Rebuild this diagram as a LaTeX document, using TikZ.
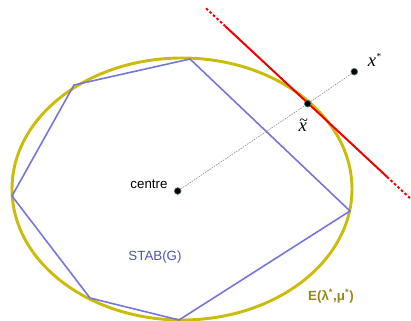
\documentclass[tikz,border=0pt]{standalone}
\usepackage{fontspec}
\setmainfont{Liberation Sans}
\newfontfamily\serifx{Liberation Serif}
\definecolor{ellcol}{RGB}{204,188,10}
\definecolor{elltext}{RGB}{150,135,25}
\definecolor{polycol}{RGB}{118,118,214}
\definecolor{stabtext}{RGB}{80,80,190}
\definecolor{dotrim}{RGB}{80,115,120}
\definecolor{redline}{RGB}{240,0,0}
\tikzset{
  ellipseline/.style={draw=ellcol,line width=2.2pt},
  polyline/.style={draw=polycol,line width=1.2pt,line join=miter},
  tangentsolid/.style={draw=redline,line width=1.5pt},
  tangentdash/.style={draw=redline,line width=1.5pt,dash pattern=on 2pt off 1.6pt},
  rayline/.style={draw=black!45,line width=0.45pt,dash pattern=on 1.2pt off 0.8pt},
  ptdot/.style={circle,fill=black,draw=dotrim,line width=0.5pt,minimum size=5pt,inner sep=0pt},
  lbl/.style={inner sep=0pt,font=\fontsize{10}{12}\selectfont},
  mathlbl/.style={inner sep=0pt,font=\serifx\itshape\fontsize{14}{16}\selectfont}
}
\begin{document}
\begin{tikzpicture}[x=0.75pt,y=-0.75pt]
\useasboundingbox (0,0) rectangle (411,321);
% ellipse
\draw[ellipseline] (182,189) ellipse [x radius=170, y radius=131];
% polygon STAB(G)
\coordinate (p1) at (74,85);
\coordinate (p2) at (190,59);
\coordinate (p3) at (350,211);
\coordinate (p4) at (179,320);
\coordinate (p5) at (90,298);
\coordinate (p6) at (12,196);
\draw[polyline] (p1) -- (p2) -- (p3) -- (p4) -- (p5) -- (p6) -- cycle;
% tangent line
\coordinate (ra) at (206,8.3);
\coordinate (rb) at (225,26);
\coordinate (rc) at (387,176.8);
\coordinate (rd) at (410,198.2);
\draw[tangentdash] (ra) -- (rb);
\draw[tangentsolid] (rb) -- (rc);
\draw[tangentdash] (rc) -- (rd);
% points
\node[ptdot] (centre) at (177.7,191) {};
\node[ptdot] (xt) at (307.7,103.7) {};
\node[ptdot] (xs) at (354.3,71.7) {};
\draw[rayline] (centre) -- (xt);
\draw[rayline] (xt) -- (xs);
% labels
\node[lbl,anchor=base] (centrelbl) at (149,188) {centre};
\node[lbl,anchor=base,text=stabtext] (stablbl) at (155,260) {STAB(G)};
\node[lbl,anchor=base,text=elltext,font=\bfseries\fontsize{10}{12}\selectfont] (elllbl) at (331,300.5) {E(λ\textsuperscript{*},μ\textsuperscript{*})};
\node[mathlbl,anchor=base west] (xslbl) at (367.5,66.7) {x\raisebox{5.5pt}{\fontsize{7}{8}\selectfont *}};
\node[mathlbl,anchor=base west] (xtlbl) at (298.3,131.7) {\makebox[0pt][l]{\hspace{0.6pt}\raisebox{4.6pt}{\upshape\fontsize{12}{12}\selectfont\textasciitilde}}x};
\end{tikzpicture}
\end{document}
